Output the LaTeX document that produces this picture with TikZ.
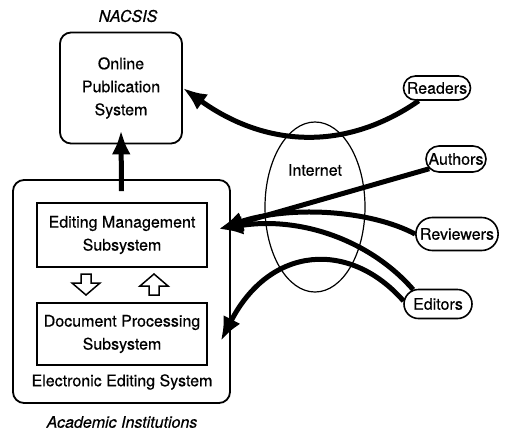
\documentclass[tikz,border=0pt]{standalone}
\usepackage{fontspec}
\setmainfont{TeX Gyre Heros}[FakeBold=0.5]
\usetikzlibrary{arrows.meta,shapes.misc,shapes.geometric}
\begin{document}
\begin{tikzpicture}[x=1pt,y=-1pt,
  every node/.style={font=\fontsize{16}{23}\selectfont},
  sysbox/.style={draw,line width=1.8pt,rounded corners=11pt,align=center},
  subbox/.style={draw,line width=1.6pt,align=center,minimum width=170pt},
  pill/.style={draw,line width=1.6pt,rounded rectangle,inner xsep=3pt,inner ysep=0pt},
  flow/.style={line width=5pt,-{Latex[length=24pt,width=19pt]}},
  hollow/.style={draw,line width=1.5pt,fill=white,line join=miter},
  caption/.style={font=\fontsize{16}{20}\selectfont\itshape}]
\useasboundingbox (0,0) rectangle (506,432);

% NACSIS side
\node[caption] (nacsis) at (128,16) {NACSIS};
\node[sysbox,minimum width=122pt,minimum height=111pt] (ops) at (121,88)
  {Online\\Publication\\System};

% academic side
\node[sysbox,minimum width=217pt,minimum height=223pt] (ees) at (121.5,291.5) {};
\node[subbox,minimum height=64pt] (ems) at (122,235) {Editing Management\\Subsystem};
\node[subbox,minimum height=62pt] (dps) at (122,334) {Document Processing\\Subsystem};
\node (eeslabel) at (122,382) {Electronic Editing System};
\node[caption] (acad) at (122,422) {Academic Institutions};

% hollow exchange arrows between the subsystems
\draw[hollow] (81,274) -- (91,274) -- (91,283) -- (100,283) -- (86,295)
  -- (72,283) -- (81,283) -- cycle;
\draw[hollow] (149,295) -- (159,295) -- (159,286) -- (168,286) -- (154,274)
  -- (140,286) -- (149,286) -- cycle;

% Internet
\node[draw,ellipse,line width=1.2pt,minimum width=100pt,minimum height=170pt]
  (net) at (315,207) {};
\node (netlabel) at (315,170) {Internet};

% remote users
\node[pill,minimum width=73pt,minimum height=24pt] (readers) at (437,88) {Readers};
\node[pill,minimum width=66pt,minimum height=26pt] (authors) at (456,159) {Authors};
\node[pill,minimum width=68pt,minimum height=33pt] (reviewers) at (457,234) {Reviewers};
\node[pill,minimum width=74pt,minimum height=29pt] (editors) at (438,304) {Editors};

% publication flow
\draw[flow] ([yshift=-12pt]ees.north) -- ([yshift=14pt]ops.south);
\draw[flow] (readers.215) .. controls (345,152) and (265,147) .. (ops.east);

% submissions and reviews into the editing management subsystem
\draw[flow] (authors.200) -- ([xshift=11pt,yshift=6pt]ems.east);
\draw[flow] (reviewers.west) .. controls (370,210) and (290,205)
  .. ([xshift=11pt,yshift=6pt]ems.east);
\draw[flow] (editors.150) .. controls (370,240) and (300,216)
  .. ([xshift=11pt,yshift=6pt]ems.east);
\draw[flow] (editors.175) .. controls (350,240) and (270,245)
  .. ([xshift=13pt,yshift=-7pt]dps.east);
\end{tikzpicture}
\end{document}
